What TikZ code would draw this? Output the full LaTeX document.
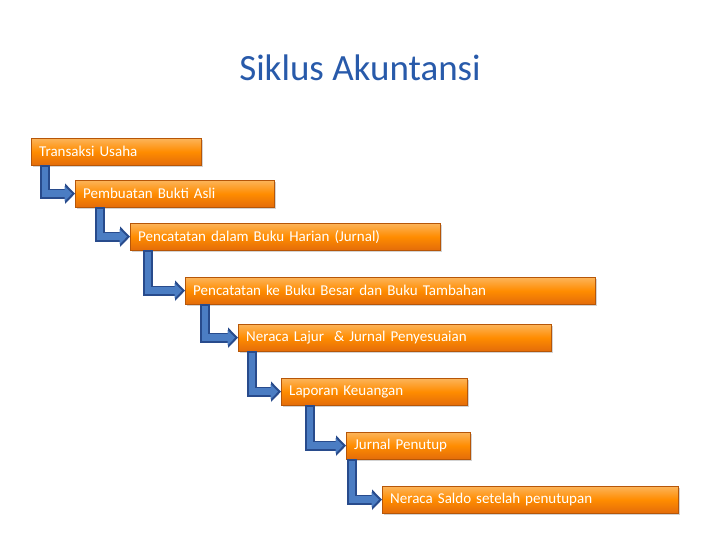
\documentclass[tikz,border=0pt]{standalone}
\usepackage{fontspec}
\setmainfont{Carlito}
\usetikzlibrary{arrows.meta,shadows}
\definecolor{ttl}{RGB}{40,90,170}
\definecolor{otop}{RGB}{252,180,90}
\definecolor{obot}{RGB}{228,108,10}
\definecolor{bdark}{RGB}{40,75,140}
\definecolor{blight}{RGB}{75,125,195}
\tikzset{
 stepbox/.style={anchor=north west, inner xsep=8pt, inner ysep=0pt, minimum height=27pt, top color=otop, bottom color=obot, middle color=orange!90!yellow, draw=obot!80!black, line width=0.4pt, drop shadow={shadow xshift=1.5pt,shadow yshift=-1.5pt,opacity=0.35}, text=white, font=\fontsize{15}{17}\selectfont, align=left},
 arrowout/.style={draw=bdark, line width=10pt, -{Triangle[width=20pt,length=10pt]}},
 arrowin/.style={draw=blight, line width=6.5pt, -{Triangle[width=15pt,length=7.5pt]}, shorten >=1.5pt}
}
\newcommand{\bx}[5]{\node[stepbox, text width=\dimexpr#4pt-16pt\relax] (#1) at (#2pt,-#3pt) {#5};}
\newcommand{\arr}[3]{%
 \draw[arrowout] ([xshift=#3pt]#1.south west) |- (#2.west);
 \draw[arrowin] ([xshift=#3pt,yshift=-1.5pt]#1.south west) |- ([xshift=-1.5pt]#2.west);}
\begin{document}
\begin{tikzpicture}[x=1pt,y=1pt]
\useasboundingbox (0,0) rectangle (720,-540);
\node[text=ttl, font=\fontsize{37}{40}\selectfont] (title) at (360,-68) {Siklus Akuntansi};
\bx{b1}{31}{138}{170}{Transaksi Usaha}
\bx{b2}{75}{180}{199}{Pembuatan Bukti Asli}
\bx{b3}{130}{223}{310}{Pencatatan dalam Buku Harian (Jurnal)}
\bx{b4}{185}{277}{410}{Pencatatan ke Buku Besar dan Buku Tambahan}
\bx{b5}{238}{324}{313}{Neraca Lajur \ \& Jurnal Penyesuaian}
\bx{b6}{281}{378}{186}{Laporan Keuangan}
\bx{b7}{346}{432}{124}{Jurnal Penutup}
\bx{b8}{382}{486}{296}{Neraca Saldo setelah penutupan}
\arr{b1}{b2}{14}
\arr{b2}{b3}{25}
\arr{b3}{b4}{18}
\arr{b4}{b5}{20}
\arr{b5}{b6}{14}
\arr{b6}{b7}{29}
\arr{b7}{b8}{6}
\end{tikzpicture}
\end{document}
